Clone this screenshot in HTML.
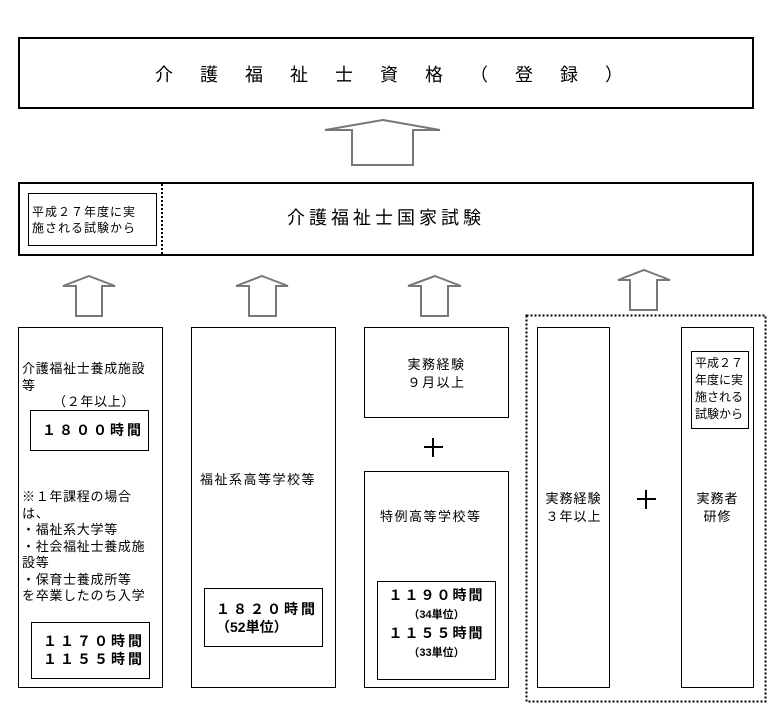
<!DOCTYPE html>
<html><head><meta charset="utf-8"><style>
body{margin:0;width:777px;height:724px;background:#fff;position:relative;overflow:hidden;font-family:"Liberation Sans","Noto Sans CJK JP",sans-serif;color:#000}
.b{position:absolute;border:1px solid #000;box-sizing:border-box}
.t{position:absolute;font-size:13px;line-height:16.5px;white-space:nowrap;letter-spacing:0.7px}
.bold{font-weight:bold}
</style></head><body>
<div class="b" style="left:18px;top:37px;width:736px;height:72px;border-width:2px"></div>
<div class="t" style="left:155px;top:64px;font-size:18px;line-height:22px;letter-spacing:27px">介護福祉士資格（登録）</div>

<div class="b" style="left:18px;top:182px;width:736px;height:74px;border-width:2px"></div>
<div style="position:absolute;left:161px;top:184px;height:70px;border-left:2px dotted #000"></div>
<div class="b" style="left:28px;top:193px;width:129px;height:53px"></div>
<div class="t" style="left:32px;top:204px;font-size:12px;line-height:16px;letter-spacing:1px">平成２７年度に実<br>施される試験から</div>
<div class="t" style="left:287px;top:207px;font-size:18px;line-height:22px;letter-spacing:4px">介護福祉士国家試験</div>

<svg width="777" height="724" style="position:absolute;left:0;top:0">
<g fill="#fff" stroke="#777" stroke-width="2">
<polygon points="383,120 440,130 413,130 413,165 352,165 352,130 325,130"/>
<polygon points="89,276 115,286 102,286 102,316 76,316 76,286 63,286"/>
<polygon points="262,276 288,286 276,286 276,316 249,316 249,286 236,286"/>
<polygon points="435,276 461,286 448,286 448,316 421,316 421,286 408,286"/>
<polygon points="644,270 670,280 657,280 657,310 630,310 630,280 618,280"/>
</g>
<rect x="526.5" y="315.5" width="239" height="386" fill="none" stroke="#000" stroke-width="2" stroke-dasharray="2,2"/>
<g stroke="#000" stroke-width="2">
<line x1="424" y1="447" x2="443" y2="447"/><line x1="433" y1="438" x2="433" y2="457"/>
<line x1="637" y1="499" x2="656" y2="499"/><line x1="646" y1="490" x2="646" y2="509"/>
</g>
</svg>

<div class="b" style="left:18px;top:327px;width:145px;height:361px"></div>
<div class="t" style="left:22px;top:361px">介護福祉士養成施設<br>等</div>
<div class="t" style="left:53px;top:394px">（２年以上）</div>
<div class="b" style="left:30px;top:410px;width:119px;height:41px"></div>
<div class="t bold" style="left:42px;top:422px;font-size:14px;letter-spacing:3px">１８００時間</div>
<div class="t" style="left:22px;top:489px">※１年課程の場合<br>は、<br>・福祉系大学等<br>・社会福祉士養成施<br>設等<br>・保育士養成所等<br>を卒業したのち入学</div>
<div class="b" style="left:31px;top:622px;width:119px;height:57px"></div>
<div class="t bold" style="left:43px;top:632px;font-size:14px;line-height:18px;letter-spacing:3px">１１７０時間<br>１１５５時間</div>

<div class="b" style="left:191px;top:327px;width:145px;height:361px"></div>
<div class="t" style="left:200px;top:472px;letter-spacing:1.5px">福祉系高等学校等</div>
<div class="b" style="left:204px;top:588px;width:119px;height:59px"></div>
<div class="t bold" style="left:216px;top:600px;font-size:14px;line-height:18px;letter-spacing:3px">１８２０時間<br><span style="letter-spacing:0">（52単位）</span></div>

<div class="b" style="left:364px;top:327px;width:145px;height:91px"></div>
<div class="t" style="left:364px;width:145px;text-align:center;top:356px;line-height:18px;letter-spacing:1.5px">実務経験<br>９月以上</div>
<div class="b" style="left:364px;top:471px;width:145px;height:217px"></div>
<div class="t" style="left:380px;top:509px;letter-spacing:1.5px">特例高等学校等</div>
<div class="b" style="left:377px;top:581px;width:119px;height:99px"></div>
<div class="t bold" style="left:377px;width:119px;text-align:center;top:586px;font-size:14px;line-height:18px;letter-spacing:2px">１１９０時間<br><span style="font-size:11px;letter-spacing:0">（34単位）</span><br>１１５５時間<br><span style="font-size:11px;letter-spacing:0">（33単位）</span></div>

<div class="b" style="left:537px;top:327px;width:73px;height:361px"></div>
<div class="t" style="left:537px;width:73px;text-align:center;top:490px;line-height:18px;letter-spacing:1px">実務経験<br>３年以上</div>
<div class="b" style="left:681px;top:327px;width:73px;height:361px"></div>
<div class="b" style="left:691px;top:351px;width:58px;height:78px"></div>
<div class="t" style="left:695px;top:355px;font-size:12px;line-height:17px;letter-spacing:0">平成２７<br>年度に実<br>施される<br>試験から</div>
<div class="t" style="left:681px;width:73px;text-align:center;top:490px;line-height:18px;letter-spacing:1px">実務者<br>研修</div>
</body></html>
